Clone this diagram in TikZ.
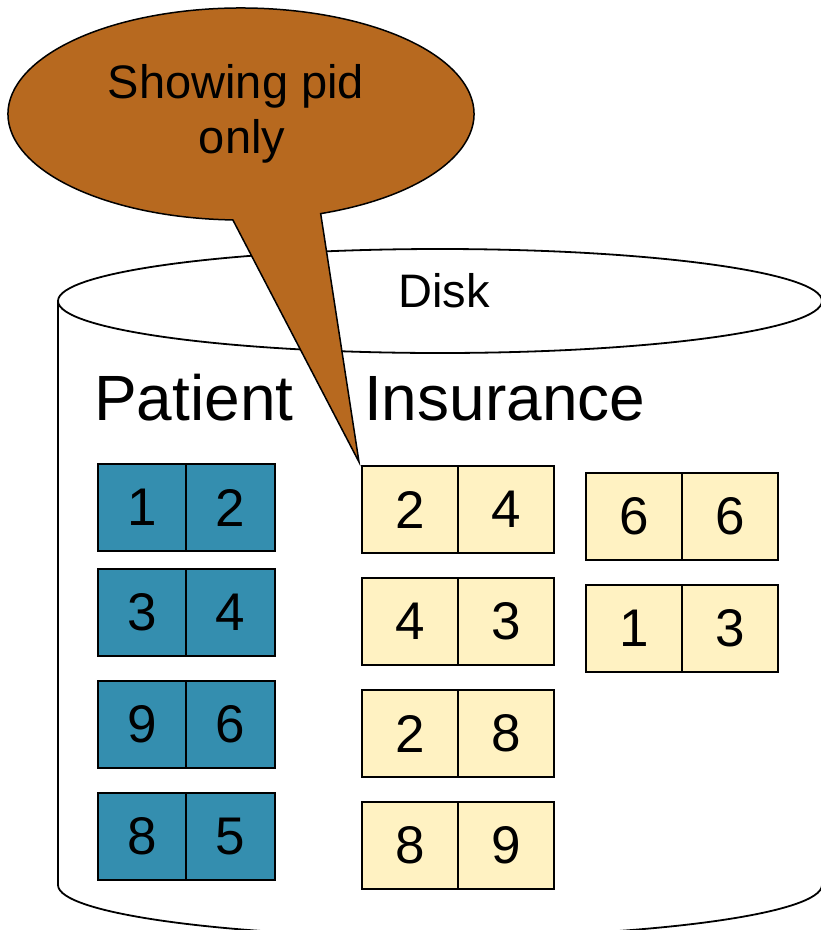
\documentclass[tikz,border=0pt]{standalone}
\usepackage{fontspec}
\setmainfont{Liberation Sans}
\definecolor{pblue}{RGB}{52,142,175}
\definecolor{iyellow}{RGB}{255,242,194}
\definecolor{cbrown}{RGB}{183,105,31}
\begin{document}
\begin{tikzpicture}[x=1pt,y=1pt,
  pcell/.style={draw=black, line width=2pt, fill=pblue, inner sep=0pt, outer sep=0pt,
    minimum width=88pt, minimum height=87pt, anchor=north west,
    font=\fontsize{53}{60}\selectfont},
  icell/.style={draw=black, line width=2pt, fill=iyellow, inner sep=0pt, outer sep=0pt,
    minimum width=96pt, minimum height=87pt, anchor=north west,
    font=\fontsize{53}{60}\selectfont},
  label/.style={inner sep=0pt, anchor=base}]
\useasboundingbox (0,0) rectangle (821,-930);
% cylinder
\coordinate (topc) at (440,-301);
\coordinate (botc) at (440,-885);
\draw[line width=1.8pt, fill=white] (58,-301) -- (58,-885)
  arc[start angle=180, end angle=360, x radius=382, y radius=52] -- (822,-301);
\draw[line width=1.8pt, fill=white] (topc) ellipse[x radius=382, y radius=52];
\node[label, font=\fontsize{47}{55}\selectfont] (disk) at (444,-307) {Disk};
% callout
\coordinate (cc) at (241,-114);
\coordinate (tip) at (359,-462);
\draw[line width=1.5pt, fill=cbrown] (cc) ++(-70:233 and 106)
  arc[start angle=-70, end angle=268, x radius=233, y radius=106] -- (tip) -- cycle;
\node[label, font=\fontsize{47}{55}\selectfont] (sp) at (236,-98) {Showing pid};
\node[label, font=\fontsize{47}{55}\selectfont] (only) at (242,-153) {only};
% headings
\node[label, anchor=base west, font=\fontsize{64}{70}\selectfont] (patient) at (94,-420) {Patient};
\node[label, anchor=base west, font=\fontsize{64}{70}\selectfont] (insurance) at (364,-420) {Insurance};
% Patient records
\foreach \yy/\a/\b [count=\i] in {464/1/2, 569/3/4, 681/9/6, 793/8/5} {
  \node[pcell] (p\i a) at (98,-\yy) {\a};
  \node[pcell, minimum width=89pt] (p\i b) at (p\i a.north east) {\b};
}
% Insurance records, column 1
\foreach \yy/\a/\b [count=\i] in {466/2/4, 578/4/3, 690/2/8, 802/8/9} {
  \node[icell] (i\i a) at (362,-\yy) {\a};
  \node[icell] (i\i b) at (i\i a.north east) {\b};
}
% Insurance records, column 2
\foreach \yy/\a/\b [count=\i] in {473/6/6, 585/1/3} {
  \node[icell] (j\i a) at (586,-\yy) {\a};
  \node[icell] (j\i b) at (j\i a.north east) {\b};
}
\end{tikzpicture}
\end{document}
